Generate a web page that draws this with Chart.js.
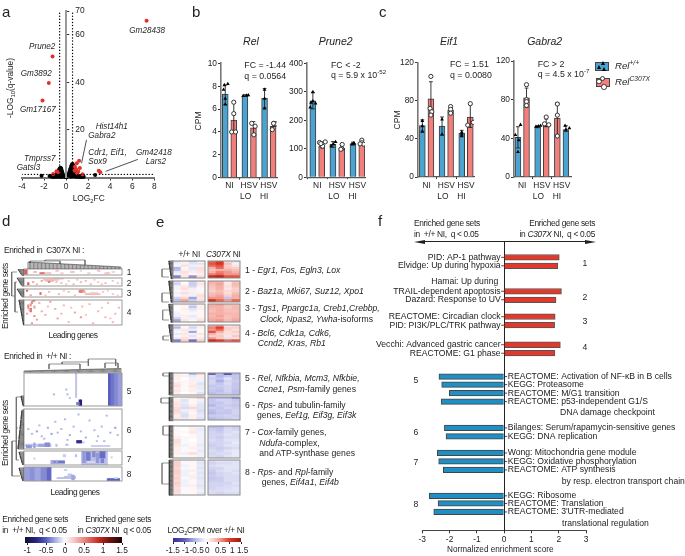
<!DOCTYPE html>
<html><head><meta charset="utf-8">
<style>
html,body{margin:0;padding:0;background:#fff;width:685px;height:556px;overflow:hidden}
#p{position:relative;width:685px;height:556px;font-family:"Liberation Sans",Arial,sans-serif;color:#222;filter:blur(.3px)}
canvas{position:absolute}
.t{position:absolute;white-space:pre;line-height:1;z-index:5;opacity:.99}
.t sub,.t sup{font-size:70%;line-height:0}
</style>
<script src="https://cdn.jsdelivr.net/npm/chart.js@4/dist/chart.umd.min.js"></script>
</head><body><div id="p"></div>
<script>
// ---------- a: volcano ----------
const volGreyX=[-2.23,2.63,-1.5,-1.4,-1.3,-1.2,-1.1,-1,-.95,-.9,-.85,-.8,-.75,-.7,-.65,-.62,-.6,-.55,-.5,-.5,-.45,-.4,-.4,-.35,-.3,-.25,-.2,-.15,-.1,-.05,.05,.1,.15,.2,.25,.3,.35,.4,.45,.5,.55,.6,.6,.65,.7,.7,.75,.8,.85,.9,.95,1,1.05,1.1,1.2,1.3,1.4,1.6,-.8,-.6,-.3,.3,.5,.8,-1.2,-1,-.9,-.7,-.55,-.45,-.35,.35,.45,.55,.65,.75,.85,1,1.15,1.3,1.5,.4,.55,.7,-.65,-.5];
const volGreyY=[.75,1.05,.6,.5,.4,.8,.5,1,.6,1.4,.7,1.8,1,2.6,3.2,1.2,3.6,3.9,4.1,2.5,3.8,3,1.5,2.2,1.4,.9,.5,.4,.3,.2,.2,.3,.6,.9,1.6,2.4,3.2,3.8,4.5,5.2,5.6,5.7,3.5,4.9,4.2,2,3.5,2.6,1.8,1.3,1,.9,.7,.6,.5,.4,.35,.3,.5,.6,.5,.6,.8,.6,.2,.3,.3,.3,.3,.3,.3,.4,.4,.4,.5,.5,.3,.3,.3,.2,.2,1.5,2.5,1,1.2,1.4];
const volRedX=[7.3,-1.23,-1.57,-2.14,1.18,.97,.8,.9,1.1,1.25,1.49,2.96,3.1,-1.17,-.87,-.72,.75,1];
const volRedY=[65.9,50.9,39.7,32.4,7,6,4.5,3.5,2.5,4,1.4,2.8,2.2,1.5,2.6,2.2,2.8,1.8];
const volXTicks=[-4,-2,0,2,4,6,8], volYTicks=[0,20,40,60,70];
const fcCut=.585, qCut=1.3;
// ---------- b/c: bars ----------
const groupLabels=[['NI'],['HSV','LO   '],['HSV','HI    ']];
const relMean=[[7.32,7.15,6.95],[5.04,4.37,4.5]];
const relErr=[[[6.4,8.1],[7.1,7.25],[6.1,7.8]],[[4,6.6],[3.7,4.9],[4.2,4.8]]];
const relPts=[[[[-.1,8.1],[.3,8.2],[-.2,7.7],[0,6.9],[0,6.4]],[[-.2,7.15],[.2,7.2],[.4,7.22]],[[0,7.7],[0,6.9],[0,6.05]]],[[[0,6.6],[0,5.6],[-.25,4],[.2,4]],[[-.2,4.75],[.2,4.5],[.05,3.75]],[[.1,4.75],[-.1,4.2],[.35,4.7],[.05,4.75]]]];
const pruneMean=[[268.6,115,118],[109,101,121]];
const pruneErr=[[[240,298],[105,125],[113,123]],[[103,124],[96,115],[115,130]]];
const prunePts=[[[[0,299],[0,267],[-.3,245],[.3,259],[-.2,262]],[[-.2,109],[.3,124],[.05,116]],[[-.1,116],[.1,118],[.1,120]]],[[[-.25,122],[.1,109],[.4,124],[-.1,118]],[[.05,115],[0,101],[-.1,98]],[[0,130],[0,121],[.2,116],[-.2,117]]]];
const eifMean=[[54,53.5,46],[82,70,63]];
const eifErr=[[[47,60],[44,63],[43,49]],[[65,100],[66,74],[52,76]]];
const eifPts=[[[[0,59],[0,53.5],[0,48]],[[0,60.5],[0,44.8]],[[0,47],[0,45],[0,43]]],[[[0,105.6],[-.1,72],[.1,68.5],[0,65]],[[0,74],[0,71],[0,67]],[[0,77],[-.3,54.5],[.35,57.3]]]];
const gabMean=[[41,52],[82,52.8]], gabMeanHi=[61,49];
const gabErr=[[[30,52],[51,53]],[[72,92],[52,60]]], gabErrHi=[[42,77],[47,53]];
const gabPts=[[[[-.3,43.5],[.3,54],[.1,38],[0,26]],[[-.2,52],[.1,52.5],[.35,53]]],[[[0,95.5],[0,80],[0,78],[0,74]],[[0,62],[-.2,55],[.3,54]]]];
const gabPtsHi=[[[0,75.5],[0,64],[0,42.4]],[[-.1,53],[0,49],[.4,50.5]]];
// ---------- d: sparse clustered cells  [col0,col1,row0,row1,value] ----------
const dRows=[5,7,7,21,27,33,12,12];
const dBlocks=[[24,269.3,122,275.7],[24,277.7,122,286.3],[24,288.7,122,297.3],[24,299.7,122,325.3],[24,373.3,122,406.5],[24,408.7,122,449],[24,451,122,465.3],[24,467.3,122,481.3]];
const dCells1=[[0,3,0,5,.4],[0,2,1,4,.7],[13,17,3,4,.6],[17,22,3,4,.25],[8,10,2,3,.3],[26,28,1,2,.25],[38,41,2,3,.25],[52,54,3,4,.2],[60,62,1,2,.25],[66,70,3,4,.25],[72,74,2,3,.2],[30,32,3,4,.2],[46,47,1,2,.2]];
const dCells2=[[3,4,4,6,.7],[7,8,3,4,.4],[10,11,5,6,.3],[14,15,2,3,.4],[16,28,1,2,.28],[18,24,2,3,.32],[20,21,3,4,.55],[24,32,0,1,.22],[30,31,4,5,.3],[36,37,2,3,.25],[40,41,5,6,.3],[46,47,3,4,.3],[50,51,2,3,.3],[54,55,5,6,.3],[60,61,3,4,.25],[66,67,4,5,.3],[72,73,2,3,.25],[43,44,1,2,.25],[57,58,1,2,.25],[63,64,5,6,.25],[76,77,4,5,.25],[26,27,3,4,.3],[34,35,5,6,.25]];
const dCells3=[[2,3,1,2,.7],[5,6,5,6,.4],[13,14,3,5,.6],[20,21,2,3,.3],[28,29,4,5,.3],[36,37,2,3,.3],[45,49,1,3,.55],[48,50,2,3,.35],[50,62,4,5,.3],[54,60,3,4,.22],[64,65,2,3,.25],[72,73,4,5,.25],[17,18,5,6,.25],[32,33,1,2,.25],[41,42,5,6,.25],[68,69,1,2,.2],[76,77,5,6,.2]];
const dCells4=[[7,9,0,1,.6],[6,7,1,3,.5],[5,6,3,5,.45],[3,4,4,7,.5],[5,6,7,10,.65],[8,9,5,7,.4],[4,5,8,9,.4],[2,3,11,12,.4],[8,9,13,14,.5],[10,11,16,17,.4],[6,7,19,20,.45],[14,15,9,10,.35],[17,18,12,13,.35],[21,22,1,2,.4],[25,26,7,8,.35],[27,28,15,16,.4],[32,33,4,5,.3],[36,37,18,19,.3],[41,42,10,11,.4],[46,47,14,15,.45],[47,48,5,6,.3],[53,54,3,4,.3],[56,57,19,20,.3],[60,61,9,10,.3],[66,67,14,15,.3],[68,69,2,3,.3],[74,75,11,12,.3],[77,78,6,7,.3],[72,73,18,19,.3],[12,13,2,3,.35],[30,31,11,12,.3],[19,20,5,6,.3],[38,39,6,7,.25],[50,51,12,13,.25],[63,64,6,7,.25],[70,71,15,16,.25]];
const dCells5=[[42,43,0,20,-.18],[69,71,0,27,-.5],[71,74,0,27,-.42],[74,77,0,27,-.36],[77,80,0,27,-.3],[24,25,17,18,-.22],[34,35,13,14,-.22],[35,36,17,18,-.22],[45,47,22,27,-.8],[43,45,24,26,-.4],[37,38,20,21,-.18]];
const dCells6=[[3,4,16,17,-.22],[6,7,20,21,-.22],[10,11,18,19,-.3],[14,15,22,23,-.22],[19,20,15,16,-.25],[22,23,20,21,-.3],[25,26,10,11,-.22],[27,28,19,20,-.22],[30,31,16,17,-.22],[33,34,8,9,-.22],[37,38,21,22,-.25],[40,41,14,15,-.22],[44,45,4,5,-.22],[46,47,18,19,-.22],[50,51,23,24,-.25],[53,54,9,10,-.22],[57,58,17,18,-.22],[60,61,22,23,-.22],[63,64,14,15,-.22],[67,68,5,6,-.22],[70,71,19,20,-.25],[74,75,15,16,-.3],[76,77,21,22,-.22],
 [1,22,29,31,-.17],[2,6,30,32,-.32],[8,9,28,32,-.3],[12,16,29,31,-.28],[17,21,28,31,-.35],[43,47,26,28,-.7],[26,27,29,31,-.2],[34,36,29,30,-.2],[55,70,30,31,-.15],[59,60,26,27,-.2],[12,13,13,14,-.2],[16,17,24,25,-.22],[35,36,25,26,-.22],[48,49,27,28,-.2],[65,66,26,27,-.22]];
const dCells7=[[47,68,0,12,-.2],[48,50,0,10,-.32],[51,54,1,8,-.4],[56,58,0,5,-.36],[59,61,2,10,-.32],[62,66,0,6,-.45],[63,65,7,10,-.38],[52,58,9,10,-.12],[22,33,8,11,-.26],[28,33,9,10,-.42],[24,26,9,10,-.36],[42,43,3,5,-.2],[32,34,3,5,-.15],[8,9,6,7,-.15],[71,72,5,6,-.15]];
const dCells8=[[0,5,0,12,-.3],[5,9,0,12,-.34],[9,14,0,12,-.28],[14,19,0,12,-.36],[19,22,0,12,-.46],[27,33,9,10,-.2],[33,42,8,10,-.2],[36,39,6,8,-.18],[33,35,2,3,-.15],[39,41,7,11,-.28],[68,78,10,12,-.48],[74,76,9,10,-.15]];
const dLabels=['1','2','3','4','5','6','7','8'];
// ---------- e: expression heatmaps (4 samples × gene clusters) ----------
const heatBoxesY=[[261,278.7],[281,302.3],[304.3,322.3],[324.7,342],[372.7,395],[397.3,420.7],[425.7,457.7],[460,495.3]];
const wt1=[[-.2,.05,-.25,0],[-.1,.1,-.2,-.2],[-.05,.2,-.1,.1],[-.5,.05,-.2,.2],[-.45,.1,-.15,.2],[-.15,.2,.1,.15],[-.1,.15,.05,.1],[-.8,.15,-.7,.2]];
const mut1=[[.8,1,.2,-.2],[.9,1.1,.4,-.1],[.8,.9,.3,.15],[.5,.8,.35,.3],[.4,.5,.5,.4],[.5,.7,.6,.5],[.7,.8,.6,.6],[1.2,1.3,.9,.9]];
const wt2=[[-.2,0,-.3,.1],[-.3,.05,-.35,.15],[-.1,.15,-.3,.1],[-.1,.2,-.1,.05],[.05,.1,.1,-.05],[-.1,.2,-.1,.1],[-.05,.1,-.1,.2],[-.3,.25,-.6,.15],[-.45,.55,-.35,.2]];
const mut2=[[.5,.5,.1,.35],[.45,.55,.15,.45],[.4,.5,.2,.4],[.35,.5,.15,.3],[.3,.4,.25,.3],[.4,.45,.2,.4],[.45,.55,.3,.5],[.6,.6,-.4,.5],[1.1,.8,.6,.8]];
const wt3=[[.05,.1,-.2,.05],[0,.05,-.4,.1],[0,.1,-.2,.1],[-.05,.05,-.1,.05],[-.1,.05,.05,.05],[-.1,.1,-.15,.05],[-.3,.1,-.1,.1],[-.6,.15,-.05,.2]];
const mut3=[[.5,.55,.4,.4],[.5,.5,.35,.45],[.45,.5,.4,.45],[.4,.5,.4,.4],[.5,.5,.45,.45],[.45,.55,.4,.45],[.5,.5,.4,.5],[.55,.6,.45,.55]];
const wt4=[[-.2,.05,-.1,.1],[-.5,.05,-.3,.1],[-.1,.15,-.1,.05],[-.05,.1,-.6,.05],[-.15,.15,-.1,.15],[-.05,.1,-.2,.05],[-.15,.2,.1,.15],[-.8,.3,-.9,.3]];
const mut4=[[.5,.6,.1,.2],[.7,1,.3,.3],[.6,.8,.3,.2],[.9,.5,.2,.3],[.5,.3,.2,.2],[.3,.35,.15,.35],[.6,.3,-.2,.2],[1.2,1,.8,.9]];
const wt5=[[.1,.05,-.5,.3],[.1,.1,-.15,.1],[.1,0,-.1,-.1],[.05,.05,.1,-.1],[.15,-.05,.1,-.2],[.2,-.05,.15,-.15],[.1,.05,.1,-.15],[.15,.05,.1,-.1],[.1,0,.05,-.2]];
const mut5=[[-1,-.5,-1.2,-.5],[-.3,-.5,-.4,-.4],[-.35,-.4,-.2,-.4],[-.3,-.55,-.3,-.35],[-.3,-.4,-.25,-.4],[-.4,-.35,-.3,-.4],[-.35,-.4,-.3,-.4],[-.4,-.45,-.3,-.45],[-.45,-.4,-.35,-.45]];
const wt6=[[.05,.1,.15,.3],[.1,-.2,.05,-.1],[.15,-.15,.05,-.15],[.15,-.2,.1,-.2],[.2,-.25,.25,-.2],[.25,-.1,.1,-.25],[.2,-.2,.05,-.2],[.1,-.25,.1,-.15],[.15,-.15,.1,-.2]];
const mut6=[[-.5,-.5,-.5,-.7],[-.4,-.3,-.3,-.4],[-.4,-.4,-.3,-.35],[-.5,-.35,-.35,-.4],[-.35,-.4,-.3,-.35],[-.45,-.35,-.4,-.3],[-.5,-.4,-.4,-.3],[-.35,-.35,-.3,-.35],[-.45,-.4,-.35,-.3]];
const wt7=[[0,.05,.1,-.1],[.05,0,.1,-.15],[.05,.05,.15,-.1],[.05,0,.05,-.1],[.1,-.05,.05,-.1],[.2,-.05,0,-.1],[.2,-.05,.05,-.1],[.15,-.1,.05,-.15],[.1,-.05,.1,-.1],[.1,-.05,.05,-.15],[.1,-.1,.2,-.1],[.05,-.05,.05,-.1]];
const mut7=[[-.45,-.45,-.3,-.35],[-.35,-.4,-.25,-.3],[-.3,-.35,-.25,-.2],[-.3,-.3,-.2,-.25],[-.3,-.35,-.25,-.25],[-.25,-.3,-.2,-.2],[-.3,-.3,-.25,-.15],[-.35,-.3,-.2,-.2],[-.3,-.35,-.3,-.25],[-.25,-.3,-.2,-.15],[-.3,-.25,-.25,-.15],[-.25,-.3,-.2,-.15]];
const wt8=[[.25,-.05,.05,-.15],[.3,-.05,.05,-.2],[.3,-.1,.05,-.15],[.25,-.05,.05,-.2],[.3,-.1,.1,-.15],[.3,-.1,.05,-.2],[.25,-.1,.1,-.15],[.3,-.05,.1,-.2],[.25,-.1,.05,-.15],[.3,-.1,.05,-.15],[.25,-.1,.1,-.2],[.2,-.05,.05,-.15],[.25,-.05,.05,-.1],[.2,-.05,.05,-.15]];
const mut8=[[-.25,-.2,-.2,-.2],[-.3,-.25,-.25,-.2],[-.25,-.2,-.2,-.2],[-.3,-.3,-.2,-.2],[-.35,-.25,-.2,-.25],[-.4,-.3,-.25,-.2],[-.35,-.3,-.25,-.25],[-.4,-.35,-.25,-.25],[-.35,-.35,-.25,-.25],[-.3,-.3,-.3,-.2],[-.3,-.3,-.25,-.25],[-.3,-.25,-.25,-.2],[-.25,-.25,-.2,-.2],[-.25,-.3,-.25,-.25]];
const heatWt=[wt1,wt2,wt3,wt4,wt5,wt6,wt7,wt8], heatMut=[mut1,mut2,mut3,mut4,mut5,mut6,mut7,mut8];
// ---------- f: enrichment ----------
const nesRed=[2.02,1.97,2.1,1.9,1.87,1.85,2.06,1.86];
const nesRedRow=[0,1,4,5,7,8,10.3,11.3];
const nesRedLbl=['PID: AP-1 pathway','Elvidge: Up during hypoxia','TRAIL-dependent apoptosis','Dazard: Response to UV','REACTOME: Circadian clock','PID: PI3K/PLC/TRK pathway','Vecchi: Advanced gastric cancer','REACTOME: G1 phase'];
const nesBlue=[-2.39,-2.29,-2.01,-2.31,-2.19,-2.13,-2.45,-2.4,-2.23,-2.75,-2.42,-2.58];
const nesBlueRow=[14.05,15,16,17,20.1,21.1,23.05,24.05,25.05,28.1,29,30];
const nesBlueLbl=['REACTOME: Activation of NF-κB in B cells','KEGG: Proteasome','REACTOME: M/G1 transition','REACTOME: p53-independent G1/S','Bilanges: Serum/rapamycin-sensitive genes','KEGG: DNA replication','Wong: Mitochondria gene module','KEGG: Oxidative phosphorylation','REACTOME: ATP synthesis','KEGG: Ribosome','REACTOME: Translation','REACTOME: 3\'UTR-mediated'];

// ---------- helpers ----------
const P=document.getElementById('p');
const FONT='"Liberation Sans",Arial,sans-serif';
Chart.defaults.font.family=FONT;Chart.defaults.font.size=8.4;Chart.defaults.color='#222';
let z=1;
function mk(b,pl,cfg){ // b canvas box [l,t,r,b], pl plot box
  const c=document.createElement('canvas');c.width=b[2]-b[0];c.height=b[3]-b[1];
  c.style.left=b[0]+'px';c.style.top=b[1]+'px';c.style.width=c.width+'px';c.style.height=c.height+'px';c.style.zIndex=cfg.z||(z++);
  P.appendChild(c);
  const o=cfg.options=cfg.options||{};
  o.responsive=false;o.animation=false;o.events=[];
  const pad={left:pl[0]-b[0],top:pl[1]-b[1],right:b[2]-pl[2],bottom:b[3]-pl[3]};
  const inL=pad.left,inB=pad.bottom;
  o.plugins=Object.assign({legend:{display:false},tooltip:{enabled:false},title:{display:false}},o.plugins||{});
  for(const k in o.scales){const s=o.scales[k];
    s.offset=false;
    const vis=s.display!==false, mirror=s.ticks&&s.ticks.mirror, custom=typeof s.position==='object';
    if(vis&&k==='x'){pad.bottom=0;}
    if(vis&&k==='y'&&!mirror&&!custom){pad.left=0;}
    s.afterFit=a=>{
      if(a.isHorizontal())a.height=vis?inB:0;
      else a.width=(vis&&!mirror&&!custom)?inL:0;
      a.paddingLeft=a.paddingRight=a.paddingTop=a.paddingBottom=0;};}
  o.layout={padding:pad};
  return new Chart(c.getContext('2d'),cfg);
}
function T(s,x,y,o={}){const d=document.createElement('div');d.className='t';d.innerHTML=s;
  d.style.fontSize=(o.s||8.65)+'px';if(o.i)d.style.fontStyle='italic';if(o.ls)d.style.letterSpacing=o.ls+'px';if(o.c)d.style.color=o.c;
  let tr='translateY(-50%)';d.style.left=x+'px';d.style.top=y+'px';
  if(o.a==='r')tr='translate(-100%,-50%)';if(o.a==='c')tr='translate(-50%,-50%)';
  if(o.rot)tr='translate(-50%,-50%) rotate(-90deg)';
  d.style.transform=tr;P.appendChild(d);return d;}
function ramp(stops){return v=>{let i=0;while(i<stops.length-2&&v>stops[i+1][0])i++;
  const a=stops[i],b=stops[i+1],t=Math.max(0,Math.min(1,(v-a[0])/(b[0]-a[0])));
  return 'rgb('+[0,1,2].map(k=>Math.round(a[1][k]+(b[1][k]-a[1][k])*t)).join(',')+')';};}
const dColor=ramp([[-1.06,[18,16,50]],[-.75,[40,36,130]],[-.5,[85,92,190]],[-.25,[170,176,228]],[0,[255,255,255]],[.25,[246,196,194]],[.5,[234,138,134]],[.9,[200,40,31]],[1.2,[110,18,16]],[1.5,[26,5,5]]]);
const eColor=ramp([[-1.5,[58,42,154]],[-1,[90,90,184]],[-.5,[180,184,232]],[0,[255,255,255]],[.5,[245,176,168]],[1,[224,58,37]],[1.5,[154,28,20]]]);
const frame={id:'frame',afterDatasetsDraw(ch){const a=ch.chartArea,x=ch.ctx;x.save();x.strokeStyle=ch.options.frameColor||'#8a8a8a';x.lineWidth=1;x.strokeRect(a.left,a.top,a.right-a.left,a.bottom-a.top);x.restore();}};
const BLUE='#4ba3d1',PINK='#f27f7c',EDGE='#3c3c3c',AX='#777';
const TS=8.65,HS=8.4,HL=-.33;
function seg(list){const out=[];list.forEach(s=>{s.forEach(p=>out.push({x:p[0],y:p[1]}));out.push({x:NaN,y:NaN});});return out;}
const lineDs=(data,color,w,extra)=>Object.assign({type:'line',data,borderColor:color,borderWidth:w,pointRadius:0,spanGaps:false,fill:false,tension:0},extra||{});

// ---------- panel a ----------
(function(){
 const plot=[22,11,154.3,177.5];
 const volPts=(xs,ys)=>xs.map((x,i)=>({x,y:ys[i]}));
 mk([0,0,170,205],plot,{type:'scatter',data:{datasets:[
   {data:volPts(volGreyX,volGreyY),backgroundColor:'#000',borderWidth:0,pointRadius:2,order:3,clip:false},
   {data:volPts(volRedX,volRedY),backgroundColor:'#e3302a',borderWidth:0,pointRadius:2,order:2},
   lineDs([{x:-fcCut,y:0},{x:-fcCut,y:70}],'#000',1.4,{borderDash:[.1,3],borderCapStyle:'round',order:1}),
   lineDs([{x:fcCut,y:0},{x:fcCut,y:70}],'#000',1.4,{borderDash:[.1,3],borderCapStyle:'round',order:1}),
   lineDs([{x:-4,y:qCut},{x:8,y:qCut}],'#000',1.4,{borderDash:[.1,3],borderCapStyle:'round',order:1}),
   lineDs(seg([[[1.4,6],[1.85,15.8]],[[3.6,2.6],[6.5,7.6]]]),'#222',.8,{order:1}),
 ]},options:{scales:{
   x:{type:'linear',min:-4,max:8,afterBuildTicks:s=>{s.ticks=volXTicks.map(value=>({value}))},grid:{display:true,tickLength:3,tickColor:'#333',drawOnChartArea:false},border:{color:AX,width:2},ticks:{autoSkip:false,maxRotation:0,padding:1,callback:v=>String(v)}},
   y:{type:'linear',min:0,max:70,display:false}
 }}});
 mk([60,0,100,190],[66.3,11,100,177.5],{type:'scatter',data:{datasets:[]},options:{scales:{
   x:{type:'linear',display:false},
   y:{type:'linear',min:0,max:70,afterBuildTicks:s=>{s.ticks=volYTicks.map(value=>({value}))},position:'left',grid:{drawOnChartArea:false,tickLength:-3,tickColor:'#333'},border:{color:'#999',width:2},ticks:{mirror:true,padding:9,autoSkip:false,callback:v=>v===0?'':String(v)}}
 }}});
 T('-LOG<sub>10</sub>(q-value)',10,88,{rot:1,s:8.4});
 T('LOG<sub>2</sub>FC',88.7,198,{a:'c',s:8.4});
 const I={i:1,s:8.15};
 T('Gm28438',129.3,31.3,I);T('Prune2',29,47.3,I);T('Gm3892',20.7,74,I);T('Gm17167',20,110,I);
 T('Hist14h1',95.7,126.7,I);T('Gabra2',88.3,135.7,I);T('Cdr1, Eif1,',88.3,153,I);T('Sox9',88.3,162.3,I);
 T('Gm42418',136,152.7,I);T('Lars2',145.7,162.3,I);T('Tmprss7',24,159.3,I);T('Gatsl3',16.7,167.7,I);
})();

// ---------- panels b, c ----------
function barPanel(d){
 const u=d.first, sp=d.sp, step=d.step;
 const px=(g,s)=>g*step+s; // bar position in bar-widths
 const slot=d.slots||((g,k)=>k);
 const bars=[],errs=[],tri=[],cir=[];
 for(let k=0;k<2;k++)for(let g=0;g<3;g++){
   const xx=px(g,slot(g,k));
   bars.push({k,x:xx,y:d.mean(g,k)});
   const e=d.err(g,k);
   errs.push([[xx,e[0]],[xx,e[1]]],[[xx-.22,e[1]],[xx+.22,e[1]]],[[xx-.22,e[0]],[xx+.22,e[0]]]);
   d.pts(g,k).forEach(p=>(k?cir:tri).push({x:xx+p[0],y:p[1]}));
 }
 const min=(d.axis-u)/sp,max=(d.end-u)/sp;
 const centers=[0,1,2].map(g=>px(g,.5));
 mk([d.axis-24,50,d.end+6,205],[d.axis,d.top,d.end,d.bottom],{type:'bar',data:{datasets:[
   {type:'scatter',data:cir,pointStyle:'circle',pointRadius:2.1,backgroundColor:'#fff',borderColor:'#333',borderWidth:1,order:1},
   {type:'scatter',data:tri,pointStyle:'triangle',pointRadius:2.2,backgroundColor:'#000',borderColor:'#000',borderWidth:0,order:1},
   lineDs(seg(errs),'#222',.9,{order:2}),
   {type:'bar',data:bars.filter(b=>!b.k),backgroundColor:BLUE,borderColor:EDGE,borderWidth:1,barThickness:sp*.68,grouped:false,order:3},
   {type:'bar',data:bars.filter(b=>b.k),backgroundColor:PINK,borderColor:EDGE,borderWidth:1,barThickness:sp*.68,grouped:false,order:3},
 ]},options:{scales:{
   x:{type:'linear',min,max,afterBuildTicks:s=>{s.ticks=centers.map(value=>({value}))},grid:{drawOnChartArea:false,tickLength:2,tickColor:'#333'},border:{color:'#555',width:1.2},ticks:{autoSkip:false,maxRotation:0,padding:1,callback:(v,i)=>groupLabels[i],font:{size:8.4,lineHeight:1.3}}},
   y:{type:'linear',min:0,max:d.max,afterBuildTicks:s=>{s.ticks=d.ticks.map(value=>({value}))},grid:{drawOnChartArea:false,tickLength:3,tickColor:'#333'},border:{color:AX,width:1.6},ticks:{autoSkip:false,padding:1,callback:v=>String(v)}}
 }}});
}
const gm=(m)=>(g,k)=>m[k][g], ge=(e)=>(g,k)=>e[k][g], gp=(p)=>(g,k)=>p[k][g];
barPanel({axis:220.7,end:277.5,top:63.3,bottom:177.7,first:225,sp:8.67,step:2.3,max:10,ticks:[0,2,4,6,8,10],mean:gm(relMean),err:ge(relErr),pts:gp(relPts)});
barPanel({axis:307.3,end:365.7,top:63.3,bottom:177.2,first:313.2,sp:8.9,step:2.27,max:400,ticks:[0,100,200,300,400],mean:gm(pruneMean),err:ge(pruneErr),pts:gp(prunePts)});
barPanel({axis:418.3,end:475,top:62.7,bottom:177,first:422.7,sp:8.67,step:2.3,max:120,ticks:[0,40,80,120],mean:gm(eifMean),err:ge(eifErr),pts:gp(eifPts)});
barPanel({axis:514,end:571.7,top:61,bottom:177,first:518,sp:8.67,step:2.3,max:120,ticks:[0,40,80,120],
  slots:(g,k)=>g===2?1-k:k,
  mean:(g,k)=>g===2?(k?gabMeanHi[0]:gabMeanHi[1]):gabMean[k][g],
  err:(g,k)=>g===2?(k?gabErrHi[0]:gabErrHi[1]):gabErr[k][g],
  pts:(g,k)=>g===2?(k?gabPtsHi[0]:gabPtsHi[1]):gabPts[k][g]});
const GT={a:'c',i:1,s:10.5};
T('Rel',251,41,GT);T('Prune2',335.7,41,GT);T('Eif1',449,41,GT);T('Gabra2',544.7,41,GT);
T('CPM',198.3,121,{rot:1,s:8.6});T('CPM',396.7,120,{rot:1,s:8.6});
const FC={s:8.8};
T('FC = -1.44',244.3,65,FC);T('q = 0.0564',244.3,76,FC);
T('FC &lt; -2',331,65,FC);T('q = 5.9 x 10<sup>-52</sup>',331,75,FC);
T('FC = 1.51',450,64.3,FC);T('q = 0.0080',450,75,FC);
T('FC &gt; 2',537.7,64,FC);T('q = 4.5 x 10<sup>-7</sup>',537.7,74.3,FC);
// legend
function sw(x,y,w,h,col){const d=document.createElement('div');d.style.cssText=`position:absolute;left:${x}px;top:${y}px;width:${w}px;height:${h}px;background:${col};border:1px solid #444;box-sizing:border-box;z-index:5`;P.appendChild(d);}
function tri(x,y){const d=document.createElement('div');d.style.cssText=`position:absolute;left:${x-2}px;top:${y-2}px;width:0;height:0;border-left:2px solid transparent;border-right:2px solid transparent;border-bottom:4px solid #000;z-index:6`;P.appendChild(d);}
function cir(x,y){const d=document.createElement('div');d.style.cssText=`position:absolute;left:${x-2.2}px;top:${y-2.2}px;width:3.4px;height:3.4px;background:#fff;border:.9px solid #333;border-radius:50%;z-index:6`;P.appendChild(d);}
sw(595,62,14,9,BLUE);tri(602.5,62.5);tri(598.5,67);tri(604,68.5);
sw(595.5,78,14,9,PINK);cir(598.5,81);cir(602,78);cir(603.5,86.5);
T('Rel<sup>+/+</sup>',615,66,{i:1,s:9.6});T('Rel<sup>C307X</sup>',615,81.5,{i:1,s:9.6});

// ---------- panel d ----------
function sparse(i,cells){
 const b=dBlocks[i],rows=dRows[i],colPx=(b[2]-b[0])/80;
 const data=[];cells.forEach(c=>{for(let k=c[0];k<c[1];k++)data.push({x:k+.5,y:[c[2],c[3]],v:c[4]});});
 mk([b[0]-1,b[1]-1,b[2]+1,b[3]+1],b,{type:'bar',data:{datasets:[{data,barThickness:colPx+.3,grouped:false,backgroundColor:data.map(p=>dColor(p.v))}]},
  options:{frameColor:'#9a9a9a',scales:{x:{type:'linear',min:0,max:80,display:false},y:{type:'linear',min:0,max:rows,reverse:true,display:false}}},plugins:[frame]});
 T(dLabels[i],126.7,[272,282.7,293.3,311.7,391,430,458.7,474.3][i],{s:8.4});
}
[dCells1,dCells2,dCells3,dCells4,dCells5,dCells6,dCells7,dCells8].forEach((c,i)=>sparse(i,c));
const H={s:HS,ls:HL};
T('Enriched in  C307X NI :',4,250,H);T('Enriched in  +/+ NI :',4,355.7,H);
T('Enriched gene sets',5,295.7,{rot:1,s:HS,ls:HL});T('Enriched gene sets',5,433,{rot:1,s:HS,ls:HL});
T('Leading genes',73,335,{a:'c',s:HS,ls:-.45});T('Leading genes',75,492,{a:'c',s:HS,ls:-.45});
T('Enriched gene sets',2.3,519.3,H);T('in  +/+ NI,  q &lt; 0.05',2.3,529.7,H);
T('Enriched gene sets',151,519.3,{a:'r',s:HS,ls:HL});T('in <i>C307X</i> NI  q &lt; 0.05',151,529.7,{a:'r',s:HS,ls:HL});
// colour bars
function cbar(pl,lo,hi,ticks,col,showLabels){
 const n=60,data=[];for(let i=0;i<n;i++){const a=lo+(hi-lo)*i/n,b=lo+(hi-lo)*(i+1)/n;data.push({x:[a,b+.01],y:0,v:(a+b)/2});}
 mk([pl[0]-12,pl[1]-1,pl[2]+12,pl[3]+16],pl,{type:'bar',data:{datasets:[{data,barThickness:pl[3]-pl[1],grouped:false,backgroundColor:data.map(p=>col(p.v))}]},
  options:{indexAxis:'y',scales:{
   x:{type:'linear',min:lo,max:hi,afterBuildTicks:s=>{s.ticks=ticks.map(value=>({value}))},grid:{drawOnChartArea:false,tickLength:2,tickColor:'#222'},border:{display:false},ticks:{display:showLabels,autoSkip:false,maxRotation:0,padding:1,callback:v=>String(v)}},
   y:{type:'linear',min:-.5,max:.5,display:false}}}});
}
const dBarTicks=[-1,-.5,0,.5,1,1.5];
cbar([25,537,122.7,543],-1.06,1.5,dBarTicks,dColor,true);
cbar([173.3,538.3,241.7,543],-1.5,1.5,[-1.5,-1,-.5,0,.5,1,1.5],eColor,false);
[['-1.5',172.7],['-1',185.7],['-0.5',196.7],['0',207.3],['0.5',220.7],['1',232.3],['1.5',242.7]].forEach(p=>T(p[0],p[1],550.5,{a:'c',s:8.2}));
T('LOG<sub>2</sub>CPM over +/+ NI',206,530.3,{a:'c',s:HS,ls:HL});

// ---------- dendrograms (d + e) ----------
function comb(xR,y0,y1,d0,d1,n){const s=[];let px=null,py=null;for(let i=0;i<n;i++){const t=i/(n-1),y=y0+(y1-y0)*t,dp=d0+(d1-d0)*t,x=xR-dp;s.push([[xR,y],[x,y]]);if(px!==null)s.push([[px,py],[x,y]]);px=x;py=y;}return s;}
function combTop(yR,x0,x1,d0,d1,n){const s=[];let px=null,py=null;for(let i=0;i<n;i++){const t=i/(n-1),x=x0+(x1-x0)*t,dp=d0+(d1-d0)*t,y=yR-dp;s.push([[x,yR],[x,y]]);if(px!==null)s.push([[px,py],[x,y]]);px=x;py=y;}return s;}
const dDendroMass=[...comb(24,269.5,275.5,6,2,8),...comb(24,278,286,7,2,10),...comb(24,289,297,7,2,10),...comb(24,300,325,5,.5,30),...comb(24,396,406,3,1,12),...comb(24,410,449,2,6,44),...comb(24,452,464.5,5,1.5,14),...comb(24,468,480.5,5,1.5,14),...combTop(269,28,121,7,2,70),...combTop(372.5,24,121,1.5,4,90)];
const dDendroTree=[[[11.7,272],[11.7,296]],[[11.7,272],[17,272]],[[11.7,296],[15,296]],[[15,282],[15,312]],[[15,282],[17,282]],[[15,312],[18,312]],
 [[12,441],[12,476]],[[12,476],[20,476]],[[12,441],[16.3,441]],[[16.3,397],[16.3,460]],[[16.3,397],[21,397]],[[16.3,460],[19,460]],[[16.3,428],[18,428]],
 [[30,261],[30,263]],[[30,261],[60,261]],[[60,261],[60,264]],[[45,260],[45,261]],[[45,260],[85,260]],[[85,260],[85,265]],
 [[88.3,359],[115.7,359]],[[88.3,359],[88.3,366]],[[115.7,359],[115.7,366]],[[49,364],[80,364]],[[80,364],[80,369]],[[49,364],[49,369]],[[62,362],[62,364]],[[62,362],[88.3,362]],[[105,363],[118,363]],[[105,363],[105,368]],[[118,363],[118,368]]];
const eDendroMass=heatBoxesY.flatMap((b,i)=>comb(173.3,b[0],b[1],i<4?4.5:4,i<4?2:4,Math.round((b[1]-b[0])/.8)));
const eDendroTree=[[162,269,277],[162,293,302],[162.7,310,320],[163,336,340],[163,373,376],[161,398,403],[163,426,435],[162,463,484]].flatMap(r=>[[[r[0],r[1]],[169,r[1]]],[[r[0],r[1]],[r[0],r[2]]],[[r[0],r[2]],[169,r[2]]]]);
mk([0,0,685,556],[0,0,685,556],{z:0,type:'scatter',data:{datasets:[
  lineDs(seg(dDendroMass),'#333',.6),lineDs(seg(dDendroTree),'#666',.7),
  lineDs(seg(eDendroMass),'#333',.7),lineDs(seg(eDendroTree),'#888',.9)
]},options:{scales:{x:{type:'linear',min:0,max:685,display:false},y:{type:'linear',min:0,max:556,reverse:true,display:false}}}});

// ---------- panel e ----------
function heat(m,mat,l,r){
 const b=heatBoxesY[m],rows=mat.length,data=[];
 mat.forEach((row,ri)=>row.forEach((v,c)=>data.push({x:[c,c+1],y:ri,v})));
 const pl=[l,b[0],r,b[1]];
 mk([l-1,b[0]-1,r+1,b[1]+1],pl,{type:'bar',data:{datasets:[{data,barThickness:(b[1]-b[0])/rows+.4,grouped:false,backgroundColor:data.map(p=>eColor(p.v))}]},
  options:{indexAxis:'y',frameColor:'#8a8a8a',scales:{x:{type:'linear',min:0,max:4,display:false},y:{type:'linear',min:-.5,max:rows-.5,reverse:true,display:false}}},plugins:[frame]});
}
heatWt.forEach((m,i)=>heat(i,m,173.3,205.7));heatMut.forEach((m,i)=>heat(i,m,208,240.7));
T('+/+ NI',189.3,254.3,{a:'c',s:HS,ls:-.2});T('<i>C307X</i> NI',223.3,254.3,{a:'c',s:HS,ls:-.2});
const eI={s:TS};
T('1 - <i>Egr1, Fos, Egln3, Lox</i>',245,270,eI);
T('2 - <i>Baz1a, Mki67, Suz12, Xpo1</i>',245,290.7,eI);
T('3 - <i>Tgs1, Ppargc1a, Creb1,Crebbp,</i>',245,308.3,eI);T('<i>Clock, Npas2, Ywha</i>-isoforms',260,319,eI);
T('4 - <i>Bcl6, Cdk1a, Cdk6,</i>',245,332.7,eI);T('<i>Ccnd2, Kras, Rb1</i>',257.7,343,eI);
T('5 - <i>Rel, Nfkbia, Mcm3, Nfkbie,</i>',245,378,eI);T('<i>Ccne1, Psm</i>-family genes',257.7,389,eI);
T('6 - <i>Rps</i>- and tubulin-family',245,405,eI);T('genes, <i>Eef1g, Eif3g, Eif3k</i>',257,415,eI);
T('7 - <i>Cox</i>-family genes,',245,432.3,eI);T('<i>Ndufa</i>-complex,',259.3,442.7,eI);T('and ATP-synthase genes',259.3,453,eI);
T('8 - <i>Rps</i>- and <i>Rpl</i>-family',245,471.7,eI);T('genes, <i>Eif4a1, Eif4b</i>',261.7,482.3,eI);

// ---------- panel f ----------
(function(){
 const fLabels={id:'fl',afterDatasetsDraw(ch){const x=ch.ctx,X=ch.scales.x,Y=ch.scales.y,x0=X.getPixelForValue(0);
  x.save();x.font=TS+'px '+FONT;x.fillStyle='#222';x.textBaseline='middle';x.strokeStyle='#222';x.lineWidth=.8;
  x.textAlign='right';nesRedLbl.forEach((s,i)=>{const y=Y.getPixelForValue(nesRedRow[i]);x.fillText(s,x0-3.5,y);x.beginPath();x.moveTo(x0-3,y);x.lineTo(x0,y);x.stroke();});
  x.textAlign='left';nesBlueLbl.forEach((s,i)=>{const y=Y.getPixelForValue(nesBlueRow[i]);x.fillText(s,x0+3.5,y);x.beginPath();x.moveTo(x0+3,y);x.lineTo(x0,y);x.stroke();});
  x.restore();}};
 const red=nesRed.map((v,i)=>({x:v,y:nesRedRow[i]})),blue=nesBlue.map((v,i)=>({x:v,y:nesBlueRow[i]}));
 mk([355,215,685,556],[422.3,241.7,586,530.3],{type:'bar',data:{datasets:[
  {data:red,backgroundColor:'#e2392b',borderColor:'#555',borderWidth:1,barThickness:5.6,grouped:false},
  {data:blue,backgroundColor:'#1f8fc4',borderColor:'#444',borderWidth:1,barThickness:5.6,grouped:false}
 ]},options:{indexAxis:'y',scales:{
  x:{type:'linear',min:-3,max:3,afterBuildTicks:s=>{s.ticks=[-3,-2,-1,0,1,2,3].map(value=>({value}))},grid:{drawOnChartArea:false,tickLength:3,tickColor:'#333'},border:{color:'#444',width:1},ticks:{autoSkip:false,maxRotation:0,padding:1,callback:v=>String(v)}},
  y:{type:'linear',min:-1.84,max:32.16,reverse:true,position:{x:0},grid:{drawOnChartArea:false,drawTicks:false},border:{color:'#222',width:1},ticks:{display:false}}
 }},plugins:[fLabels]});
 const I={s:TS};
 T('Hamai: Up during',498.3,280.7,{a:'r',s:TS});
 T('DNA damage checkpoint',560,411.7,I);T('by resp. electron transport chain',561.7,480.7,I);T('translational regulation',562,522.7,I);
 [['1',585,263],['2',585,297],['3',585,321.3],['4',585,347.3],['5',416,380],['6',416,431.7],['7',416,461.7],['8',416,504.3]].forEach(p=>T(p[0],p[1],p[2],{a:'c',s:8.6}));
 T('Normalized enrichment score',500.3,550,{a:'c',s:8.2});
 T('Enriched gene sets',414,223.3,H);T('in  +/+ NI,  q &lt; 0.05',414,233.7,H);
 T('Enriched gene sets',595,223.3,{a:'r',s:HS,ls:HL});T('in <i>C307X</i> NI,  q &lt; 0.05',595,233.7,{a:'r',s:HS,ls:HL});
 const ln=document.createElement('div');ln.style.cssText='position:absolute;left:420px;top:241.2px;width:170px;height:1px;background:#222;z-index:5';P.appendChild(ln);
 const ar=(x,dir)=>{const d=document.createElement('div');d.style.cssText=`position:absolute;left:${x}px;top:239.7px;width:0;height:0;border-top:2px solid transparent;border-bottom:2px solid transparent;${dir<0?'border-right':'border-left'}:11px solid #222;z-index:5`;P.appendChild(d);};
 ar(414,-1);ar(585,1);
})();
// panel letters
T('a',2,11,{s:15});T('b',192,11,{s:15});T('c',379,11,{s:15});T('d',2,220,{s:15});T('e',156,221,{s:15});T('f',378,220,{s:15});
</script></body></html>
